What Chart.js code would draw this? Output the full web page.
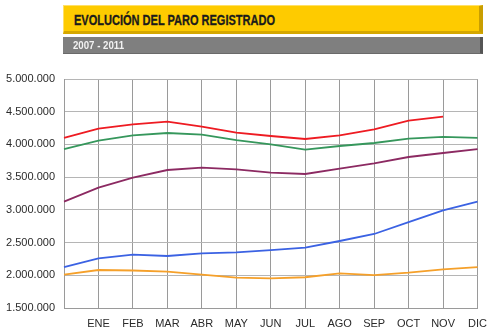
<!DOCTYPE html>
<html>
<head>
<meta charset="utf-8">
<script src="https://cdn.jsdelivr.net/npm/chart.js@4/dist/chart.umd.min.js"></script>
<style>
  html, body { margin: 0; padding: 0; background: #fff; }
  #wrap { position: relative; width: 496px; height: 336px; overflow: hidden; }
  #paroChart { position: absolute; left: 0; top: 0; }
  .bar-title {
    position: absolute; left: 63px; top: 5px; width: 420px; height: 29px;
    background: #fecb00; box-sizing: border-box;
    border-top: 1px solid #ffe067; border-left: 1px solid #ffe067;
    border-right: 4px solid #c99e00; border-bottom: 3px solid #d6a800;
  }
  .bar-title span {
    position: absolute; left: 10px; top: 6px; display: block; white-space: nowrap;
    font: bold 14.5px "Liberation Sans", Arial, sans-serif; color: #1b1b1b;
    -webkit-text-stroke: 0.3px #1b1b1b;
    transform: scaleX(0.76); transform-origin: 0 0;
  }
  .bar-sub {
    position: absolute; left: 63px; top: 37px; width: 420px; height: 17px;
    background: #7f7f7f; box-sizing: border-box;
    border-right: 3px solid #555; border-bottom: 1px solid #6a6a6a;
  }
  .bar-sub span {
    position: absolute; left: 10px; top: 2px; display: block; white-space: nowrap;
    font: bold 11.5px "Liberation Sans", Arial, sans-serif; color: #f2f2f2;
    transform: scaleX(0.84); transform-origin: 0 0;
  }
</style>
</head>
<body>
<div id="wrap">
  <canvas id="paroChart" width="496" height="336"></canvas>
  <div class="bar-title"><span>EVOLUCIÓN DEL PARO REGISTRADO</span></div>
  <div class="bar-sub"><span>2007 - 2011</span></div>
</div>
<script>
// first slot is December of the previous year (no label)
const months = ['', 'ENE', 'FEB', 'MAR', 'ABR', 'MAY', 'JUN', 'JUL', 'AGO', 'SEP', 'OCT', 'NOV', 'DIC'];

const paro2007 = [2009000, 2081000, 2073000, 2055000, 2009000, 1963000, 1954000, 1970000, 2030000, 2004000, 2040000, 2091000, 2125000];
const paro2008 = [2125000, 2259000, 2315000, 2295000, 2336000, 2351000, 2386000, 2422000, 2524000, 2631000, 2814000, 2993000, 3125000];
const paro2009 = [3125000, 3339000, 3492000, 3609000, 3645000, 3620000, 3568000, 3548000, 3629000, 3711000, 3808000, 3869000, 3928000];
const paro2010 = [3928000, 4057000, 4139000, 4175000, 4149000, 4066000, 4002000, 3920000, 3976000, 4022000, 4088000, 4114000, 4100000];
const paro2011 = [4100000, 4240000, 4307000, 4348000, 4271000, 4180000, 4129000, 4083000, 4139000, 4231000, 4363000, 4424000, null];

const yMin = 1500000;
const yMax = 5000000;
const yStep = 500000;

function fmtMiles(v) {
  return Math.round(v).toString().replace(/\B(?=(\d{3})+(?!\d))/g, '.');
}

function serie(label, data, color) {
  return {
    label: label, data: data,
    borderColor: color, backgroundColor: color,
    borderWidth: 1.8, pointRadius: 0, tension: 0, fill: false
  };
}

const tickFont = { family: "'Liberation Sans', Arial, sans-serif", size: 11 };

new Chart(document.getElementById('paroChart'), {
  type: 'line',
  data: {
    labels: months,
    datasets: [
      serie('2007', paro2007, '#f5a02a'),
      serie('2008', paro2008, '#3b62e3'),
      serie('2009', paro2009, '#8c2a62'),
      serie('2010', paro2010, '#36975c'),
      serie('2011', paro2011, '#ee1b22')
    ]
  },
  options: {
    responsive: false, animation: false, maintainAspectRatio: false,
    layout: { padding: { top: 79, right: 11, left: 0, bottom: 0 } },
    plugins: { legend: { display: false }, tooltip: { enabled: false } },
    scales: {
      x: {
        offset: false,
        grid: { color: '#9a9a9a', lineWidth: 1, drawTicks: false },
        border: { color: '#9a9a9a' },
        ticks: { color: '#2a2a2a', font: tickFont, padding: 9, maxRotation: 0, autoSkip: false },
        afterFit: s => { s.height = 28; }
      },
      y: {
        min: yMin, max: yMax,
        grid: { color: '#b5b5b5', lineWidth: 1, drawTicks: false },
        border: { color: '#9a9a9a' },
        ticks: { stepSize: yStep, color: '#2a2a2a', font: tickFont, padding: 9, callback: v => fmtMiles(v) },
        afterFit: s => { s.width = 64; }
      }
    }
  }
});
</script>
</body>
</html>
